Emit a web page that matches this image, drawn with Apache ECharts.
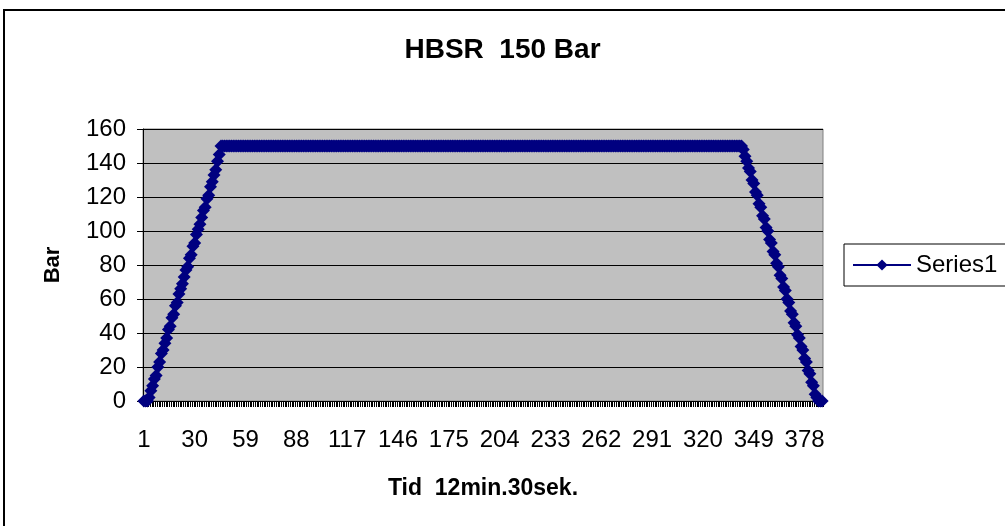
<!DOCTYPE html>
<html>
<head>
<meta charset="utf-8">
<script src="https://cdn.jsdelivr.net/npm/echarts@6/dist/echarts.min.js"></script>
<style>
  html, body { margin: 0; padding: 0; background: #fff; }
  #chart { width: 1005px; height: 526px; }
</style>
</head>
<body>
<div id="chart"></div>
<script>
// pressure readings, one per sample (388 samples over 12 min 30 s)
const rampUp = [
  0, 0, 0, 2, 6, 9, 13, 15, 20, 23, 28, 30, 34, 37, 42, 44, 49, 51, 56, 58, 63, 66, 69,
  73, 77, 79, 84, 86, 91, 93, 98, 101, 104, 108, 112, 114, 119, 121, 126, 129, 133, 136, 141, 145, 150
];
const plateau = [
  150, 150, 150, 150, 150, 150, 150, 150, 150, 150, 150, 150, 150, 150, 150, 150, 150, 150, 150, 150, 150, 150, 150, 150, 150, 150, 150,
  150, 150, 150, 150, 150, 150, 150, 150, 150, 150, 150, 150, 150, 150, 150, 150, 150, 150, 150, 150, 150, 150, 150, 150, 150, 150, 150,
  150, 150, 150, 150, 150, 150, 150, 150, 150, 150, 150, 150, 150, 150, 150, 150, 150, 150, 150, 150, 150, 150, 150, 150, 150, 150, 150,
  150, 150, 150, 150, 150, 150, 150, 150, 150, 150, 150, 150, 150, 150, 150, 150, 150, 150, 150, 150, 150, 150, 150, 150, 150, 150, 150,
  150, 150, 150, 150, 150, 150, 150, 150, 150, 150, 150, 150, 150, 150, 150, 150, 150, 150, 150, 150, 150, 150, 150, 150, 150, 150, 150,
  150, 150, 150, 150, 150, 150, 150, 150, 150, 150, 150, 150, 150, 150, 150, 150, 150, 150, 150, 150, 150, 150, 150, 150, 150, 150, 150,
  150, 150, 150, 150, 150, 150, 150, 150, 150, 150, 150, 150, 150, 150, 150, 150, 150, 150, 150, 150, 150, 150, 150, 150, 150, 150, 150,
  150, 150, 150, 150, 150, 150, 150, 150, 150, 150, 150, 150, 150, 150, 150, 150, 150, 150, 150, 150, 150, 150, 150, 150, 150, 150, 150,
  150, 150, 150, 150, 150, 150, 150, 150, 150, 150, 150, 150, 150, 150, 150, 150, 150, 150, 150, 150, 150, 150, 150, 150, 150, 150, 150,
  150, 150, 150, 150, 150, 150, 150, 150, 150, 150, 150, 150, 150, 150, 150, 150, 150, 150, 150, 150, 150, 150, 150, 150, 150, 150, 150,
  150, 150, 150, 150, 150, 150, 150, 150, 150, 150, 150, 150, 150, 150, 150, 150, 150, 150, 150, 150, 150, 150, 150, 150, 150, 150, 150
];
const rampDown = [
  148, 144, 141, 137, 135, 130, 128, 123, 121, 116, 114, 109, 107, 102, 100, 95, 93, 88, 86, 81, 79, 74, 72,
  67, 65, 60, 58, 53, 51, 46, 44, 39, 37, 32, 30, 25, 23, 18, 16, 11, 9, 4, 2, 0, 0, 0
];

const series1 = rampUp.concat(plateau, rampDown);
const samples = [];
for (let i = 1; i <= series1.length; i++) samples.push(String(i));

const font = '"Liberation Sans", Arial, sans-serif';

const chart = echarts.init(document.getElementById('chart'));
chart.setOption({
  animation: false,
  backgroundColor: '#fff',
  textStyle: { fontFamily: font },
  graphic: [{
    type: 'rect',
    shape: { x: 4, y: 10, width: 1020, height: 540 },
    style: { fill: 'none', stroke: '#000', lineWidth: 2 },
    silent: true
  }],
  title: {
    text: 'HBSR  150 Bar',
    left: 'center',
    top: 31,
    textStyle: { fontSize: 28, fontWeight: 'bold', color: '#000', fontFamily: font }
  },
  legend: {
    data: ['Series1'],
    left: 844,
    top: 244,
    orient: 'vertical',
    padding: [9, 20, 9, 8],
    itemWidth: 58,
    itemHeight: 14,
    borderColor: '#000',
    borderWidth: 1,
    textStyle: { fontSize: 24, color: '#000', fontFamily: font }
  },
  grid: {
    left: 143,
    right: 182,
    top: 129,
    bottom: 125,
    show: true,
    backgroundColor: '#C0C0C0',
    borderColor: '#808080',
    borderWidth: 1
  },
  xAxis: {
    type: 'category',
    data: samples,
    boundaryGap: true,
    name: 'Tid  12min.30sek.',
    nameLocation: 'middle',
    nameGap: 76,
    nameTextStyle: { fontSize: 23, fontWeight: 'bold', color: '#000', fontFamily: font },
    axisLine: { lineStyle: { color: '#000', width: 1 } },
    axisTick: { show: true, interval: 0, length: 6, lineStyle: { color: '#000', width: 1 } },
    axisLabel: { interval: 28, margin: 27, fontSize: 24, color: '#000', fontFamily: font },
    splitLine: { show: false }
  },
  yAxis: {
    type: 'value',
    min: 0,
    max: 160,
    interval: 20,
    name: 'Bar',
    nameLocation: 'middle',
    nameGap: 79,
    nameRotate: 90,
    nameTextStyle: { fontSize: 22, fontWeight: 'bold', color: '#000', fontFamily: font },
    axisLine: { show: true, lineStyle: { color: '#000', width: 1 } },
    axisTick: { show: true, length: 6, lineStyle: { color: '#000' } },
    axisLabel: { margin: 17, fontSize: 24, color: '#000', fontFamily: font },
    splitLine: { show: true, lineStyle: { color: '#000', width: 1 } }
  },
  series: [{
    name: 'Series1',
    type: 'line',
    data: series1,
    symbol: 'diamond',
    symbolSize: 13,
    showSymbol: true,
    showAllSymbol: true,
    itemStyle: { color: '#000080' },
    lineStyle: { color: '#000080', width: 2 }
  }]
});
</script>
</body>
</html>
